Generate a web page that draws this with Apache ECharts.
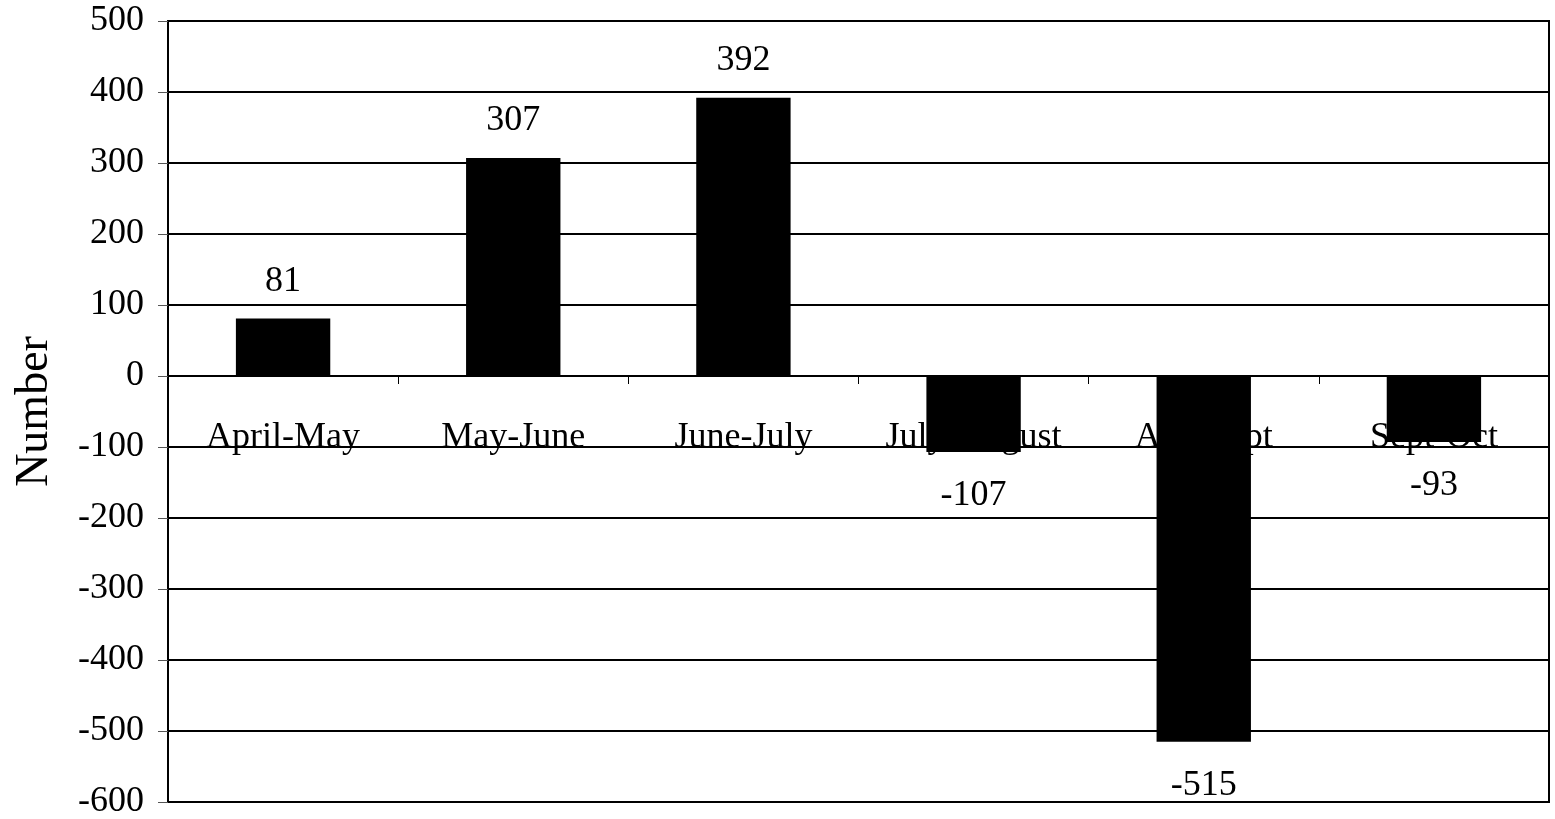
<!DOCTYPE html>
<html>
<head>
<meta charset="utf-8">
<script src="https://cdn.jsdelivr.net/npm/echarts@6/dist/echarts.min.js"></script>
<style>
  html, body { margin: 0; padding: 0; background: #fff; }
  #chart { width: 1555px; height: 819px; }
</style>
</head>
<body>
<div id="chart"></div>
<script>
// 数据
var categories = ['April-May', 'May-June', 'June-July', 'July-August', 'Aug-Sept', 'Sept-Oct'];
var values = [81, 307, 392, -107, -515, -93];
var yMin = -600, yMax = 500, yStep = 100;

var font = '"Liberation Serif", "Times New Roman", serif';

// 网格位置
var gridTop = 21, gridBottom = 17, H = 819;
var plotH = H - gridTop - gridBottom;
// x轴放到 0 的位置
var zeroOffset = -plotH * (0 - yMin) / (yMax - yMin);

var seriesData = values.map(function (v) {
  return {
    value: v,
    label: { position: v < 0 ? 'bottom' : 'top', distance: v < 0 ? 26 : 19 }
  };
});

var chart = echarts.init(document.getElementById('chart'));
chart.setOption({
  animation: false,
  grid: {
    left: 168, right: 6, top: gridTop, bottom: gridBottom,
    outerBoundsMode: 'none',
    containLabel: false,
    show: true, borderColor: '#000', borderWidth: 2
  },
  xAxis: {
    type: 'category',
    data: categories,
    offset: zeroOffset,
    axisLine: { onZero: false, lineStyle: { color: '#000', width: 2 } },
    axisTick: { show: true, length: 8, lineStyle: { color: '#000', width: 1 } },
    axisLabel: { interval: 0, margin: 44, fontFamily: font, fontSize: 36, color: '#000' },
    splitLine: { show: false }
  },
  yAxis: {
    type: 'value',
    min: yMin, max: yMax, interval: yStep,
    name: 'Number',
    nameLocation: 'middle',
    nameGap: 110,
    nameTextStyle: { fontFamily: font, fontSize: 46, color: '#000' },
    axisLine: { show: true, lineStyle: { color: '#000', width: 2 } },
    axisTick: { show: true, length: 10, lineStyle: { color: '#555', width: 1 } },
    axisLabel: { margin: 24, fontFamily: font, fontSize: 36, color: '#000' },
    splitLine: { show: true, lineStyle: { color: '#000', width: 2 } }
  },
  series: [{
    type: 'bar',
    data: seriesData,
    barWidth: '41%',
    itemStyle: { color: '#000' },
    label: {
      show: true,
      fontFamily: font, fontSize: 36, color: '#000'
    }
  }]
});
</script>
</body>
</html>
